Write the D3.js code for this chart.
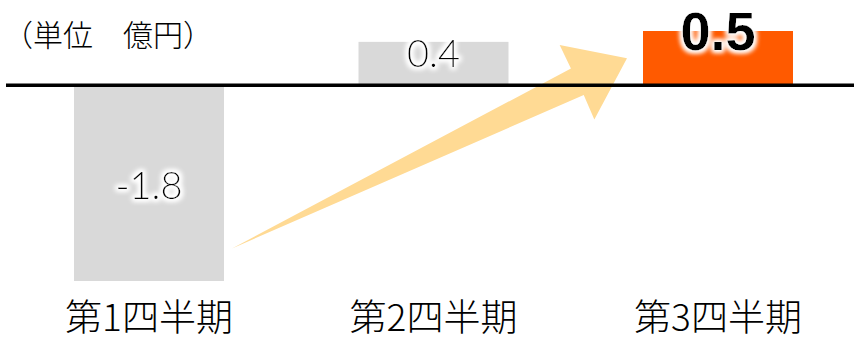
<!DOCTYPE html>
<html><head><meta charset="utf-8">
<script src="https://cdn.jsdelivr.net/npm/d3@7"></script>
<style>html,body{margin:0;padding:0;background:#fff;}svg{display:block;}</style>
</head><body>
<script>
const categories = ["第1四半期", "第2四半期", "第3四半期"];
const values = [-1.8, 0.4, 0.5];
const valueLabels = ["-1.8", "0.4", "0.5"];
const unitLabel = "（単位　億円）";
const barColors = ["#d9d9d9", "#d9d9d9", "#ff5a00"];

const W = 854, H = 341;
const svg = d3.select("body").append("svg").attr("width", W).attr("height", H);
const defs = svg.append("defs");
const f = defs.append("filter").attr("id", "glow").attr("x", "-30%").attr("y", "-30%").attr("width", "160%").attr("height", "160%");
f.append("feMorphology").attr("in", "SourceAlpha").attr("operator", "dilate").attr("radius", 1.5).attr("result", "d");
f.append("feGaussianBlur").attr("in", "d").attr("stdDeviation", 2.5).attr("result", "b");
f.append("feFlood").attr("flood-color", "#fff").attr("result", "w");
f.append("feComposite").attr("in", "w").attr("in2", "b").attr("operator", "in").attr("result", "g");
const fm = f.append("feMerge");
fm.append("feMergeNode").attr("in", "g");
fm.append("feMergeNode").attr("in", "g");
fm.append("feMergeNode").attr("in", "SourceGraphic");

const x = d3.scalePoint().domain(categories).range([149, 718]);
const barW = 150;
const y = d3.scaleLinear().domain([-1.8, 0.5]).range([281, 31]);

// bars
svg.selectAll("rect.bar").data(values).join("rect")
  .attr("x", (d, i) => x(categories[i]) - barW / 2)
  .attr("y", d => y(Math.max(0, d)))
  .attr("width", barW)
  .attr("height", d => Math.abs(y(d) - y(0)))
  .attr("fill", (d, i) => barColors[i]);

// arrow (annotation anchored to data)
const tail = [x(categories[0]) + barW / 2 + 8, y(-1.5)];
const tip = [x(categories[2]) - barW / 2 - 16, y(0.25)];
const dx = tip[0] - tail[0], dy = tip[1] - tail[1];
const L = Math.hypot(dx, dy);
const u = [dx / L, dy / L], n = [-u[1], u[0]];
const pt = (a, p) => [tail[0] + u[0] * a + n[0] * p, tail[1] + u[1] * a + n[1] * p];
const hb = L - 55;
const arrowPts = [pt(0, 0), pt(hb, 14.5), pt(hb - 1, 41), pt(L, 0), pt(hb, -41), pt(hb, -15)];
svg.append("path").attr("d", d3.line()(arrowPts) + "Z").attr("fill", "#ffda94");

// baseline
svg.append("line").attr("x1", 6).attr("x2", W).attr("y1", y(0)).attr("y2", y(0))
  .attr("stroke", "#000").attr("stroke-width", 3.5);

// value labels
svg.selectAll("text.val").data(values).join("text")
  .attr("x", (d, i) => x(categories[i]))
  .attr("y", (d, i) => [199, 67, 50][i])
  .attr("text-anchor", "middle")
  .attr("font-family", (d, i) => i === 2 ? "'Liberation Sans', sans-serif" : "Lato, 'Noto Sans', sans-serif")
  .attr("font-size", (d, i) => i === 2 ? 54 : 38)
  .attr("font-weight", (d, i) => i === 2 ? 700 : 300)
  .attr("fill", "#000")
  .attr("filter", "url(#glow)")
  .text((d, i) => valueLabels[i]);

// category labels
svg.selectAll("text.cat").data(categories).join("text")
  .attr("x", d => x(d))
  .attr("y", 331)
  .attr("text-anchor", "middle")
  .attr("font-family", "'Noto Sans CJK JP', sans-serif")
  .attr("font-weight", 300)
  .attr("font-size", 37)
  .attr("fill", "#000")
  .text(d => d);

// unit label
svg.append("text").attr("x", 3).attr("y", 46)
  .attr("font-family", "'Noto Sans CJK JP', sans-serif")
  .attr("font-weight", 300)
  .attr("font-size", 30)
  .attr("fill", "#000")
  .text(unitLabel);
</script>
</body></html>
